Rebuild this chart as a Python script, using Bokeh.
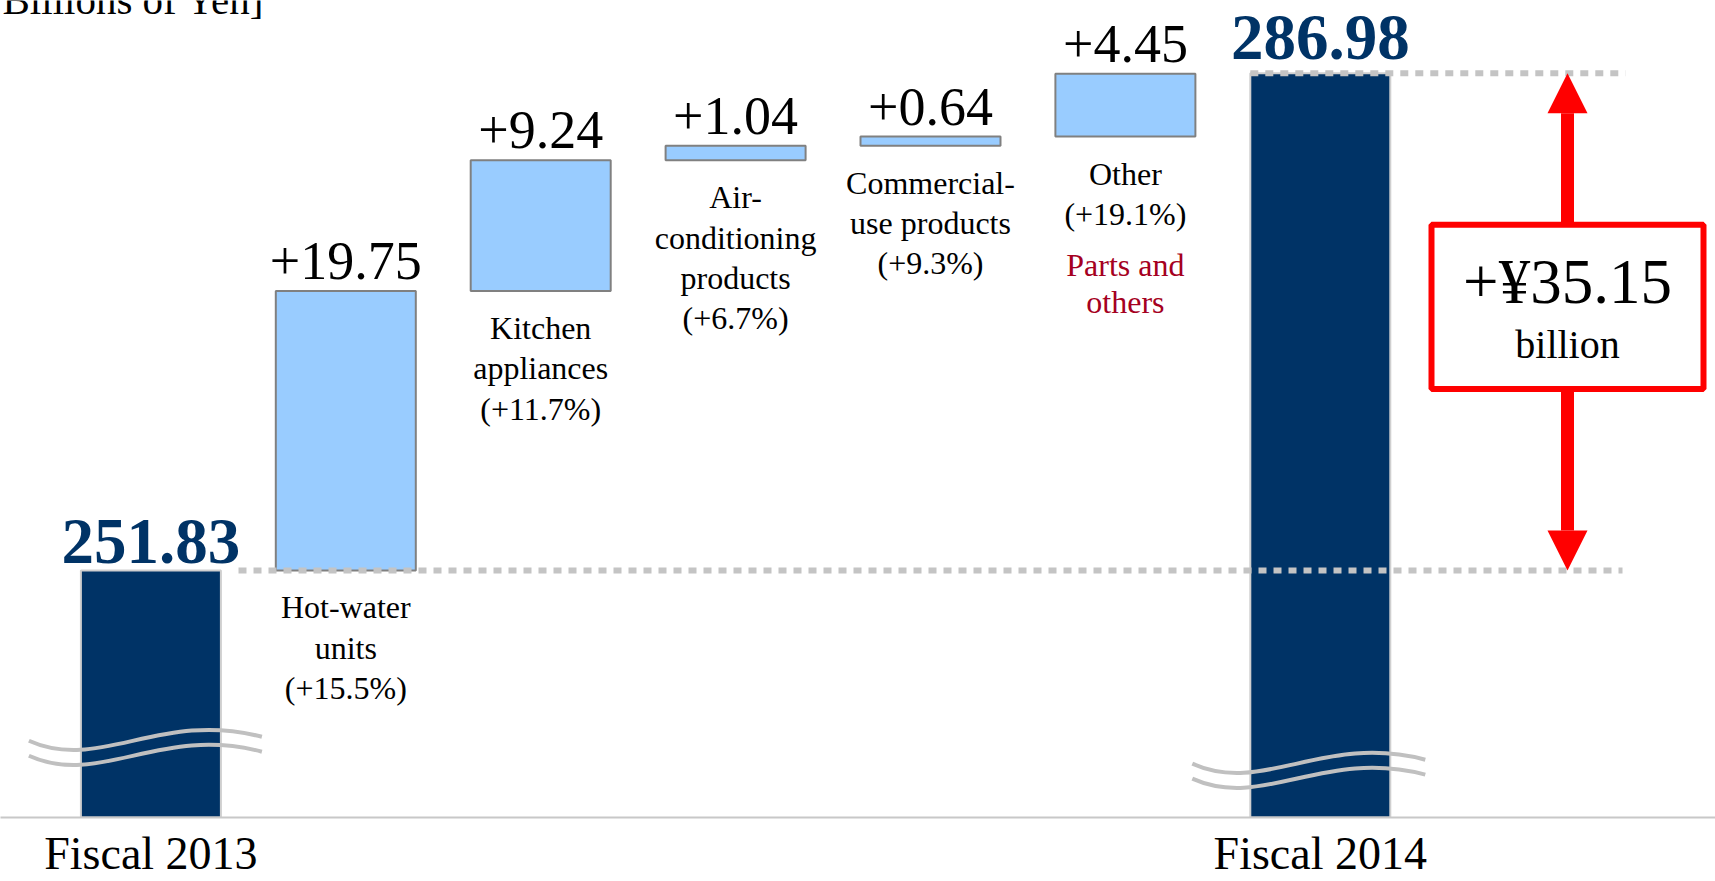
from bokeh.plotting import figure
from bokeh.models import Range1d, FixedTicker, Arrow, NormalHead
from bokeh.core.properties import value
from bokeh.embed import file_html
from bokeh.resources import INLINE

# ---------------- data ----------------
start_label = "Fiscal 2013"
end_label = "Fiscal 2014"
start_value = 251.83
end_value = 286.98
segment_names = ["Hot-water\nunits", "Kitchen\nappliances", "Air-\nconditioning\nproducts",
                 "Commercial-\nuse products", "Other"]
increments = [19.75, 9.24, 1.04, 0.64, 4.45]
growth_pct = [15.5, 11.7, 6.7, 9.3, 19.1]
total_increase = 35.15
unit_text = "Billions of Yen]"
note_text = "Parts and\nothers"

# ---------------- layout constants ----------------
W, H = 1715, 881
BOTTOM_BORDER = 61
FRAME_H = H - BOTTOM_BORDER
PX_X = 194.9          # pixels per category step
X0_PX = 150.4         # pixel of first category centre
PX_Y = 14.196         # pixels per billion yen
AXIS_FLOOR = start_value - (FRAME_H - 572) / PX_Y   # truncated axis start
BW = 140 / PX_X

def xi(px):
    return (px - X0_PX) / PX_X

def yv(px):
    return AXIS_FLOOR + (FRAME_H - px) / PX_Y

SERIF = value("Liberation Serif")
NAVY = "#003366"
LIGHT = "#99CCFF"

p = figure(width=W, height=H, output_backend="svg", toolbar_location=None,
           x_range=Range1d(xi(0), xi(W)), y_range=Range1d(AXIS_FLOOR, yv(0)),
           min_border_left=0, min_border_right=0, min_border_top=0,
           min_border_bottom=BOTTOM_BORDER)
p.outline_line_color = None
p.grid.visible = False
p.yaxis.visible = False
p.background_fill_color = "white"

n = len(increments)
xs_mid = list(range(1, n + 1))
x_end = n + 1
bottoms = []
acc = start_value
for v in increments:
    bottoms.append(acc)
    acc += v
tops = [b + v for b, v in zip(bottoms, increments)]

ax = p.xaxis[0]
ax.ticker = FixedTicker(ticks=[0, x_end])
ax.major_label_overrides = {0: start_label, x_end: end_label}
ax.axis_line_color = "#c8c8c8"
ax.axis_line_width = 2
ax.major_tick_line_color = None
ax.minor_tick_line_color = None
ax.major_tick_out = 0
ax.major_label_standoff = 10
ax.major_label_text_font = "Liberation Serif"
ax.major_label_text_font_size = "46px"
ax.major_label_text_color = "black"

# total bars
p.vbar(x=[0, x_end], width=BW, bottom=AXIS_FLOOR, top=[start_value, end_value],
       fill_color=NAVY, line_color="#cfcfcf", line_width=2)
# incremental bars
p.vbar(x=xs_mid, width=BW, bottom=bottoms, top=tops,
       fill_color=LIGHT, line_color="#808080", line_width=2)

# dotted reference lines
p.segment(x0=[xi(238), x_end - BW / 2], y0=[start_value, end_value],
          x1=[xi(1622), xi(1625)], y1=[start_value, end_value],
          line_color="#c4c4c4", line_width=6, line_dash="8 7")

# axis break waves
wave_starts = [(0 - 122 / PX_X, yv(743)), (0 - 122 / PX_X, yv(758)),
               (x_end - 128 / PX_X, yv(766)), (x_end - 128 / PX_X, yv(781))]
p.bezier(x0=[s[0] for s in wave_starts], y0=[s[1] for s in wave_starts],
         x1=[s[0] + 233 / PX_X for s in wave_starts], y1=[s[1] + 4 / PX_Y for s in wave_starts],
         cx0=[s[0] + 71 / PX_X for s in wave_starts], cy0=[s[1] - 32 / PX_Y for s in wave_starts],
         cx1=[s[0] + 131 / PX_X for s in wave_starts], cy1=[s[1] + 31 / PX_Y for s in wave_starts],
         line_color="#c0c0c0", line_width=4)

# value labels
p.text(x=xs_mid, y=tops, text=[f"+{v:.2f}" for v in increments],
       text_align="center", text_baseline="alphabetic", y_offset=-30,
       text_font=SERIF, text_font_size="54px", text_color="black")
p.text(x=[0], y=[start_value], text=[f"{start_value:.2f}"],
       text_align="center", text_baseline="alphabetic", y_offset=-29,
       text_font=SERIF, text_font_size="65px", text_font_style="bold", text_color=NAVY)
p.text(x=[x_end], y=[end_value], text=[f"{end_value:.2f}"],
       text_align="center", text_baseline="alphabetic", y_offset=-36,
       text_font=SERIF, text_font_size="65px", text_font_style="bold", text_color=NAVY)

# category labels
p.text(x=xs_mid, y=bottoms,
       text=[f"{nm}\n(+{g}%)" for nm, g in zip(segment_names, growth_pct)],
       text_align="center", text_baseline="top", y_offset=19, text_line_height=1.12,
       text_font=SERIF, text_font_size="32px", text_color="black")
p.text(x=[xs_mid[-1]], y=[bottoms[-1]], text=[note_text],
       text_align="center", text_baseline="top", y_offset=110, text_line_height=1.05,
       text_font=SERIF, text_font_size="32px", text_color="#A50021")

# unit label (partly cut off at the top, as in the source)
p.text(x=[xi(2)], y=[yv(13)], text=[unit_text], text_align="left",
       text_baseline="alphabetic", y_offset=-13, text_font=SERIF, text_font_size="41px",
       text_color="black")

# difference arrows and box
arrow_x = xi(1567)
box_top, box_bottom = yv(225), yv(390)
p.add_layout(Arrow(end=NormalHead(size=40, fill_color="red", line_color="red", line_width=0),
                   x_start=arrow_x, y_start=box_top, x_end=arrow_x, y_end=end_value,
                   line_color="red", line_width=13))
p.add_layout(Arrow(end=NormalHead(size=40, fill_color="red", line_color="red", line_width=0),
                   x_start=arrow_x, y_start=box_bottom, x_end=arrow_x, y_end=start_value,
                   line_color="red", line_width=13))
p.quad(left=[xi(1431)], right=[xi(1703)], top=[box_top], bottom=[box_bottom],
       fill_color="white", line_color="red", line_width=6)
p.text(x=[arrow_x], y=[yv(303)], text=[f"+¥{total_increase:.2f}"],
       text_align="center", text_baseline="alphabetic", y_offset=-20,
       text_font=SERIF, text_font_size="63px", text_color="black")
p.text(x=[arrow_x], y=[yv(357)], text=["billion"],
       text_align="center", text_baseline="alphabetic", y_offset=-12,
       text_font=SERIF, text_font_size="40px", text_color="black")

open("out.html", "w").write(file_html(p, INLINE))
